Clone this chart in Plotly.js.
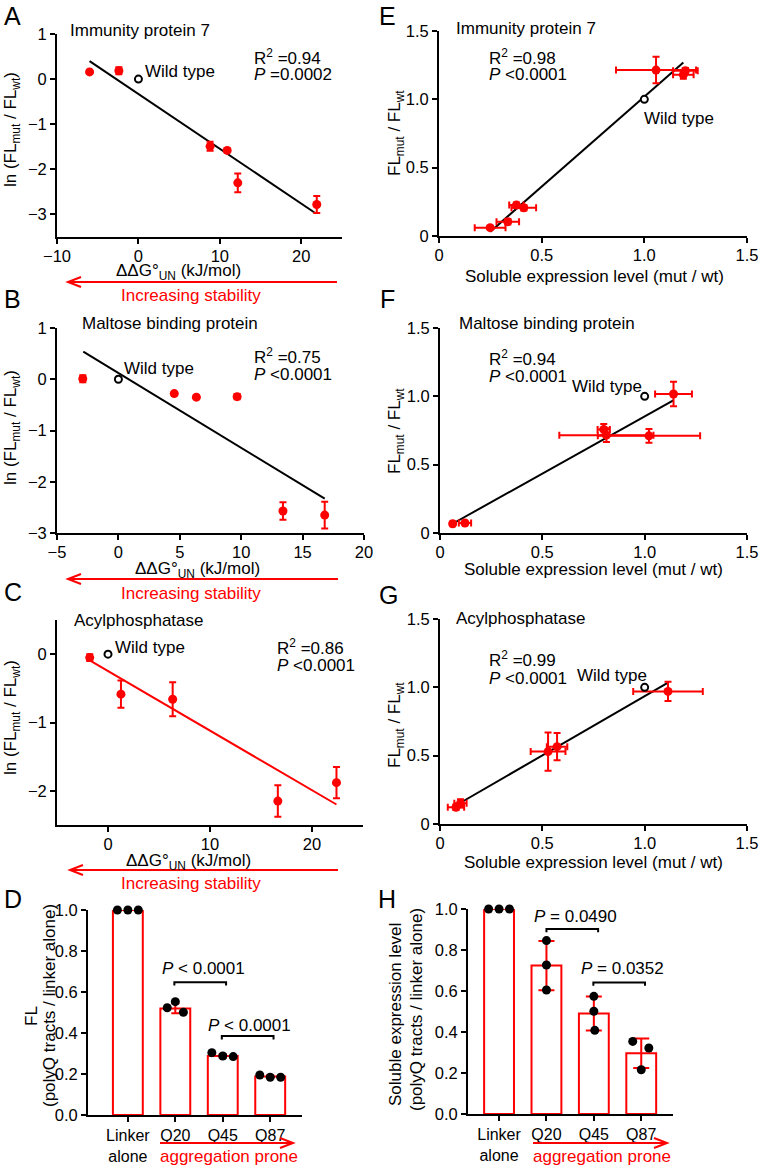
<!DOCTYPE html>
<html><head><meta charset="utf-8">
<script src="https://cdn.plot.ly/plotly-3.0.1.min.js"></script>
<style>html,body{margin:0;padding:0;background:#fff;}#chart{width:762px;height:1167px;}</style>
</head><body><div id="chart"></div>
<script>
// ---------- DATA ----------
// Panel A: Immunity protein 7 (ΔΔG vs ln FL ratio)
const aDG = [-6, -2.4, 8.8, 10.9, 12.2, 21.9];
const aLn = [0.16, 0.185, -1.49, -1.58, -2.3, -2.78];
const aLnErr = [0.03, 0.08, 0.1, 0.04, 0.21, 0.19];
const aFitDG = [-6, 21.8];
const aFitLn = [0.4, -2.98];
// Panel B: Maltose binding protein
const bDG = [-2.9, 4.55, 6.35, 9.67, 13.4, 16.8];
const bLn = [0.01, -0.28, -0.35, -0.34, -2.57, -2.65];
const bLnErr = [0.07, 0.03, 0.03, 0.05, 0.17, 0.26];
const bFitDG = [-2.86, 16.8];
const bFitLn = [0.54, -2.33];
// Panel C: Acylphosphatase
const cDG = [-1.79, 1.27, 6.34, 16.65, 22.4];
const cLn = [-0.05, -0.585, -0.66, -2.15, -1.88];
const cLnErr = [0.05, 0.2, 0.25, 0.23, 0.23];
const cFitDG = [-1.79, 22.4];
const cFitLn = [-0.09, -2.2];
// Wild type reference points
const wtDG = [0], wtLn = [0];
const wtExpr = [1], wtFL = [1];
// Panel E: Immunity protein 7 (expression vs FL ratio)
const eExpr = [0.249, 0.335, 0.377, 0.413, 1.057, 1.19, 1.20];
const eExprErr = [0.075, 0.055, 0.035, 0.06, 0.195, 0.05, 0.06];
const eFL = [0.061, 0.105, 0.226, 0.207, 1.214, 1.18, 1.21];
const eFLErr = [0.01, 0.02, 0.02, 0.02, 0.097, 0.03, 0.02];
const eFitExpr = [0.25, 1.19];
const eFitFL = [0.032, 1.27];
// Panel F: Maltose binding protein
const fExpr = [0.062, 0.122, 0.80, 0.813, 1.021, 1.141];
const fExprErr = [0.01, 0.03, 0.03, 0.23, 0.25, 0.09];
const fFL = [0.068, 0.073, 0.758, 0.716, 0.711, 1.017];
const fFLErr = [0.01, 0.01, 0.04, 0.05, 0.05, 0.09];
const fFitExpr = [0.057, 1.14];
const fFitFL = [0.064, 0.97];
// Panel G: Acylphosphatase
const gExpr = [0.078, 0.10, 0.528, 0.572, 1.114];
const gExprErr = [0.04, 0.03, 0.085, 0.05, 0.17];
const gFL = [0.122, 0.151, 0.53, 0.566, 0.97];
const gFLErr = [0.02, 0.03, 0.14, 0.1, 0.07];
const gFitExpr = [0.081, 1.11];
const gFitFL = [0.139, 1.03];
// Panels D and H: polyQ bars
const barCats = ['Linker<br>alone', 'Q20', 'Q45', 'Q87'];
const dMean = [1.0, 0.52, 0.288, 0.188];
const dSD = [0, 0.024, 0.01, 0.006];
const dReps = [[1, 1, 1], [0.523, 0.553, 0.501], [0.304, 0.288, 0.285], [0.195, 0.184, 0.184]];
const hMean = [1.0, 0.724, 0.49, 0.296];
const hSD = [0, 0.12, 0.083, 0.072];
const hReps = [[1, 1, 1], [0.846, 0.727, 0.605], [0.574, 0.501, 0.408], [0.354, 0.322, 0.216]];
const dPvals = ['<i>P</i> < 0.0001', '<i>P</i> < 0.0001'];
const hPvals = ['<i>P</i> = 0.0490', '<i>P</i> = 0.0352'];

// ---------- STYLE / LAYOUT HELPERS ----------
const W = 762, H = 1167;
const FONT = 'Arial, "Liberation Sans", Helvetica, sans-serif';
const RED = '#ff0000';
const FS = 17;
const TFS = 16.5;
const px = v => v / W;
const py = v => 1 - v / H;
const dom = (a, b) => [px(a), px(b)];
const domY = (top, bot) => [py(bot), py(top)];

function axis(domain, range, anchor, extra) {
  return Object.assign({
    domain, range, anchor, showline: true, linecolor: 'black', linewidth: 2,
    ticks: 'outside', ticklen: 5, tickwidth: 2, tickcolor: 'black',
    showgrid: false, zeroline: false, fixedrange: true,
    tickfont: {size: TFS, color: 'black', family: FONT}
  }, extra || {});
}
const xs2 = {ticklabelstandoff: -2};

const catIdx = barCats.map((_, i) => i);
const dJit = [[-0.22, 0, 0.22], [-0.17, 0, 0.17], [-0.23, 0, 0.22], [-0.22, 0, 0.22]];
const hJit = [[-0.22, 0, 0.22], [0, 0, 0], [0, 0, 0.02], [-0.18, 0.16, 0]];

const traces = [];
function fitLine(x, y, color, xa, ya) {
  traces.push({x, y, xaxis: xa, yaxis: ya, type: 'scatter', mode: 'lines',
    line: {color, width: 2}, hoverinfo: 'skip', showlegend: false});
}
function points(x, y, ex, ey, xa, ya) {
  const t = {x, y, xaxis: xa, yaxis: ya, type: 'scatter', mode: 'markers',
    marker: {color: RED, size: 9}, cliponaxis: false, showlegend: false,
    error_y: {type: 'data', array: ey, visible: true, color: RED, thickness: 2, width: 3.5}};
  if (ex) t.error_x = {type: 'data', array: ex, visible: true, color: RED, thickness: 2, width: 3.5};
  traces.push(t);
}
function wt(x, y, xa, ya) {
  traces.push({x, y, xaxis: xa, yaxis: ya, type: 'scatter', mode: 'markers',
    marker: {color: 'white', size: 7, line: {color: 'black', width: 2}},
    cliponaxis: false, showlegend: false});
}
function bars(mean, sd, reps, jit, capW, xa, ya) {
  traces.push({x: catIdx, y: mean, xaxis: xa, yaxis: ya, type: 'bar', width: 0.63,
    marker: {color: 'white', line: {color: RED, width: 2}}, cliponaxis: false,
    error_y: {type: 'data', array: sd, visible: true, color: RED, thickness: 2, width: capW},
    showlegend: false});
  const xs = [], ys = [];
  reps.forEach((r, i) => r.forEach((v, j) => { xs.push(catIdx[i] + jit[i][j]); ys.push(v); }));
  traces.push({x: xs, y: ys, xaxis: xa, yaxis: ya, type: 'scatter', mode: 'markers',
    marker: {color: 'black', size: 9}, cliponaxis: false, showlegend: false});
}

// A
fitLine(aFitDG, aFitLn, 'black', 'x', 'y');
points(aDG, aLn, null, aLnErr, 'x', 'y');
wt(wtDG, wtLn, 'x', 'y');
// B
fitLine(bFitDG, bFitLn, 'black', 'x2', 'y2');
points(bDG, bLn, null, bLnErr, 'x2', 'y2');
wt(wtDG, wtLn, 'x2', 'y2');
// C
fitLine(cFitDG, cFitLn, RED, 'x3', 'y3');
points(cDG, cLn, null, cLnErr, 'x3', 'y3');
wt(wtDG, wtLn, 'x3', 'y3');
// D
bars(dMean, dSD, dReps, dJit, 4, 'x4', 'y4');
// E
fitLine(eFitExpr, eFitFL, 'black', 'x5', 'y5');
points(eExpr, eFL, eExprErr, eFLErr, 'x5', 'y5');
wt(wtExpr, wtFL, 'x5', 'y5');
// F
fitLine(fFitExpr, fFitFL, 'black', 'x6', 'y6');
points(fExpr, fFL, fExprErr, fFLErr, 'x6', 'y6');
wt(wtExpr, wtFL, 'x6', 'y6');
// G
fitLine(gFitExpr, gFitFL, 'black', 'x7', 'y7');
points(gExpr, gFL, gExprErr, gFLErr, 'x7', 'y7');
wt(wtExpr, wtFL, 'x7', 'y7');
// H
bars(hMean, hSD, hReps, hJit, 8, 'x8', 'y8');

const expTicks = {tickvals: [0, 0.5, 1, 1.5], ticktext: ['0', '0.5', '1.0', '1.5']};
const expTicksX = Object.assign({}, expTicks, xs2);
const barY = {tickvals: [0, 0.2, 0.4, 0.6, 0.8, 1.0], ticktext: ['0.0', '0.2', '0.4', '0.6', '0.8', '1.0']};
const barX = {tickvals: catIdx, ticktext: barCats, tickfont: {size: 16, color: 'black', family: FONT}};

const layout = {
  width: W, height: H, margin: {l: 0, r: 0, t: 0, b: 0},
  paper_bgcolor: 'white', plot_bgcolor: 'white', showlegend: false,
  font: {family: FONT, size: FS, color: 'black'},
  xaxis: axis(dom(57, 342), [-10, 25], 'y', Object.assign({tickvals: [-10, 0, 10, 20]}, xs2)),
  yaxis: axis(domY(34, 237), [-3.5, 1], 'x', {tickvals: [-3, -2, -1, 0, 1]}),
  xaxis2: axis(dom(57, 364), [-5, 20], 'y2', Object.assign({tickvals: [-5, 0, 5, 10, 15, 20]}, xs2)),
  yaxis2: axis(domY(328, 533), [-3, 1], 'x2', {tickvals: [-3, -2, -1, 0, 1]}),
  xaxis3: axis(dom(57, 363), [-5, 25], 'y3', Object.assign({tickvals: [0, 10, 20]}, xs2)),
  yaxis3: axis(domY(620, 825), [-2.5, 0.5], 'x3', {tickvals: [-2, -1, 0]}),
  xaxis4: axis(dom(88, 302), [-0.84, 3.67], 'y4', barX),
  yaxis4: axis(domY(910, 1115), [0, 1], 'x4', barY),
  xaxis5: axis(dom(439, 747), [0, 1.5], 'y5', expTicksX),
  yaxis5: axis(domY(31, 236), [0, 1.5], 'x5', expTicks),
  xaxis6: axis(dom(440, 747), [0, 1.5], 'y6', expTicksX),
  yaxis6: axis(domY(328, 533), [0, 1.5], 'x6', expTicks),
  xaxis7: axis(dom(440, 747), [0, 1.5], 'y7', expTicksX),
  yaxis7: axis(domY(619, 824), [0, 1.5], 'x7', expTicks),
  xaxis8: axis(dom(468, 673), [-0.655, 3.67], 'y8', barX),
  yaxis8: axis(domY(909, 1114), [0, 1], 'x8', barY),
  annotations: [], shapes: []
};

const A = layout.annotations;
function note(x, y, text, o) {
  A.push(Object.assign({xref: 'paper', yref: 'paper', x: px(x), y: py(y), text,
    showarrow: false, xanchor: 'left', yanchor: 'middle',
    font: {family: FONT, size: FS, color: 'black'}}, o || {}));
}
function vnote(x, y, text) { note(x, y, text, {xanchor: 'center', textangle: -90}); }
function cnote(x, y, text, o) { note(x, y, text, Object.assign({xanchor: 'center'}, o || {})); }

// panel letters
[['A', 12, 16], ['B', 12, 299], ['C', 13, 592], ['D', 13, 899],
 ['E', 387, 16], ['F', 387, 299], ['G', 388, 595], ['H', 387, 899]].forEach(l =>
  cnote(l[1], l[2], l[0], {font: {family: FONT, size: 25, color: 'black'}}));

// panel titles
note(68, 30, 'Immunity protein 7');
note(454, 29, 'Immunity protein 7');
note(80, 323, 'Maltose binding protein');
note(457, 323, 'Maltose binding protein');
note(72, 620, 'Acylphosphatase');
note(454, 619, 'Acylphosphatase');

// stats
note(252, 57, 'R<sup>2</sup> =0.94'); note(252, 75, '<i>P</i> =0.0002');
note(252, 356, 'R<sup>2</sup> =0.75'); note(252, 374, '<i>P</i> <0.0001');
note(275, 647, 'R<sup>2</sup> =0.86'); note(275, 665, '<i>P</i> <0.0001');
note(487, 57, 'R<sup>2</sup> =0.98'); note(487, 75, '<i>P</i> <0.0001');
note(487, 358, 'R<sup>2</sup> =0.94'); note(487, 376, '<i>P</i> <0.0001');
note(487, 659, 'R<sup>2</sup> =0.99'); note(487, 678, '<i>P</i> <0.0001');

// wild type labels
note(143, 71, 'Wild type');
note(122, 368, 'Wild type');
note(113, 647, 'Wild type');
note(642, 118, 'Wild type');
note(570, 386, 'Wild type');
note(575, 675, 'Wild type');

// axis titles
const dgTitle = 'ΔΔG°<sub>UN</sub> (kJ/mol)';
const lnTitle = 'ln (FL<sub>mut</sub> / FL<sub>wt</sub>)';
const flTitle = 'FL<sub>mut</sub> / FL<sub>wt</sub>';
const exTitle = 'Soluble expression level (mut / wt)';
cnote(178, 272, dgTitle); cnote(197, 570, dgTitle); cnote(188, 862, dgTitle);
cnote(594, 277, exTitle); cnote(593, 570, exTitle); cnote(593, 862, exTitle);
vnote(12, 130, lnTitle); vnote(12, 428, lnTitle); vnote(12, 718, lnTitle);
vnote(396, 133, flTitle); vnote(396, 431, flTitle); vnote(396, 725, flTitle);
vnote(31, 1016, 'FL'); vnote(49, 1006, '(polyQ tracts / linker alone)');
vnote(395, 1015, 'Soluble expression level'); vnote(416, 1010, '(polyQ tracts / linker alone)');

// red arrows (shapes) and their labels
function arrow(hx, hy, tx) {
  const dir = tx > hx ? 1 : -1;
  layout.shapes.push({type: 'line', xref: 'paper', yref: 'paper',
    x0: px(tx), y0: py(hy), x1: px(hx + dir * 2), y1: py(hy), line: {color: RED, width: 2}});
  layout.shapes.push({type: 'path', xref: 'paper', yref: 'paper',
    path: `M ${px(hx + dir * 13)},${py(hy - 5)} L ${px(hx)},${py(hy)} L ${px(hx + dir * 13)},${py(hy + 5)}`,
    line: {color: RED, width: 2}});
}
const redFont = {family: FONT, size: FS, color: RED};
arrow(68, 282, 337); cnote(191, 295, 'Increasing stability', {font: redFont});
arrow(68, 579, 338); cnote(191, 593, 'Increasing stability', {font: redFont});
arrow(70, 870, 338); cnote(191, 883, 'Increasing stability', {font: redFont});
arrow(293, 1143, 160); cnote(229, 1156, 'aggregation prone', {font: redFont});
arrow(667, 1143, 533); cnote(602, 1156, 'aggregation prone', {font: redFont});

// significance brackets
function bracket(xa, ya, x0, x1, yTop, yLow, label, tx, ty) {
  layout.shapes.push({type: 'path', xref: xa, yref: ya,
    path: `M ${x0},${yLow} L ${x0},${yTop} L ${x1},${yTop} L ${x1},${yLow}`,
    line: {color: 'black', width: 2}});
  A.push({xref: xa, yref: ya, x: tx, y: ty, text: label, showarrow: false,
    xanchor: 'center', yanchor: 'middle', font: {family: FONT, size: FS, color: 'black'}});
}
bracket('x4', 'y4', 0.98, 2.07, 0.647, 0.632, dPvals[0], 1.59, 0.714);
bracket('x4', 'y4', 1.98, 3.07, 0.385, 0.368, dPvals[1], 2.57, 0.438);
bracket('x8', 'y8', 1.0, 2.09, 0.902, 0.886, hPvals[0], 1.61, 0.964);
bracket('x8', 'y8', 1.99, 3.08, 0.642, 0.626, hPvals[1], 2.6, 0.709);

Plotly.newPlot('chart', traces, layout, {staticPlot: true, displayModeBar: false});
</script></body></html>
